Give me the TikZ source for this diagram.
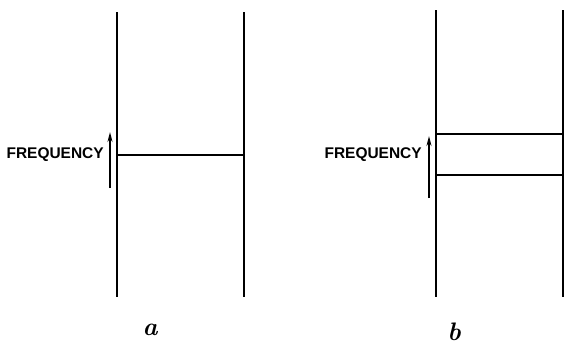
\documentclass[tikz,border=0pt]{standalone}
\usepackage{fontspec}
\setsansfont{Liberation Sans}
\usepackage{tikz}
\usetikzlibrary{arrows.meta}

\begin{document}
\begin{tikzpicture}[x=0.025cm, y=-0.025cm,
    every node/.style={font=\sffamily\bfseries\fontsize{11}{13}\selectfont},
    wall/.style={line width=1.5pt},
    freqarrow/.style={line width=1.4pt, -{Stealth[length=7pt,width=3.5pt]}},
    panellabel/.style={font=\rmfamily\bfseries\itshape\fontsize{18}{20}\selectfont}]
  \useasboundingbox (0,0) rectangle (565,345);

  % panel a
  \draw[wall] (117,12) -- (117,297);
  \draw[wall] (244,12) -- (244,297);
  \draw[wall] (117,155) -- (244,155);
  \coordinate (abot) at (110,188);
  \coordinate (atop) at (110,132);
  \draw[freqarrow] (abot) -- (atop);
  \node[anchor=east, inner sep=0pt] (afreq) at (104,155) {FREQUENCY};
  \node[panellabel] (alabel) at (150,330) {a};

  % panel b
  \draw[wall] (436,10) -- (436,297);
  \draw[wall] (563,10) -- (563,297);
  \draw[wall] (436,134) -- (563,134);
  \draw[wall] (436,175) -- (563,175);
  \coordinate (bbot) at (429,198);
  \coordinate (btop) at (429,136);
  \draw[freqarrow] (bbot) -- (btop);
  \node[anchor=east, inner sep=0pt] (bfreq) at (422,155) {FREQUENCY};
  \node[panellabel] (blabel) at (454,332) {b};
\end{tikzpicture}
\end{document}
